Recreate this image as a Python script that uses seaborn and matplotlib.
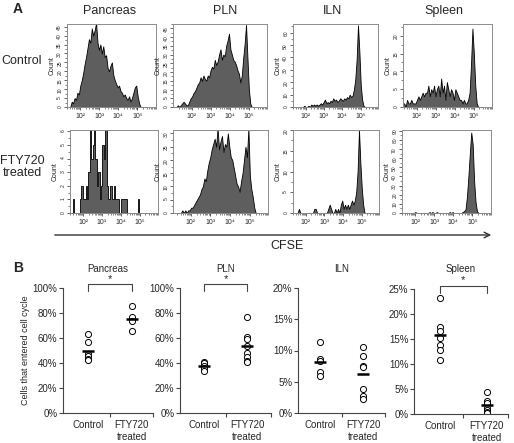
import numpy as np
import pandas as pd
import matplotlib
matplotlib.use("Agg")
import matplotlib.pyplot as plt
import seaborn as sns
from matplotlib.ticker import MultipleLocator, AutoMinorLocator, PercentFormatter

sns.set_style("ticks")
plt.rcParams["font.family"] = ["Liberation Sans", "DejaVu Sans"]

# ---- panel A: CFSE histograms, counts per bin (60 bins, log10 CFSE 1.0 to 5.5) ----
cfse_range = (1.0, 5.5)
n_bins = 60
cfse_edges = np.linspace(cfse_range[0], cfse_range[1], n_bins + 1)
cfse_centers = (cfse_edges[:-1] + cfse_edges[1:]) / 2

pancreas_ctrl_counts = [0, 0, 0, 0, 0, 0, 0, 3, 2, 5, 4, 8, 7, 12, 15, 19, 24, 28, 33, 38,
                        36, 44, 40, 43, 47, 36, 32, 35, 30, 34, 28, 29, 22, 20, 23, 25, 18, 15, 13, 11,
                        12, 9, 8, 6, 7, 5, 4, 6, 3, 5, 8, 11, 12, 6, 2, 0, 0, 0, 0, 0]
pln_ctrl_counts = [0, 0, 0, 1, 0, 1, 2, 3, 2, 1, 1, 3, 5, 6, 8, 9, 11, 13, 14, 17,
                   15, 18, 16, 15, 18, 17, 21, 23, 22, 27, 24, 26, 30, 33, 27, 30, 29, 35, 38, 42,
                   33, 30, 27, 26, 24, 21, 19, 14, 18, 28, 36, 47, 28, 10, 2, 0, 0, 0, 0, 0]
iln_ctrl_counts = [0, 0, 0, 0, 0, 0, 0, 0, 0, 0, 0, 0, 1, 0, 0, 1, 0, 2, 1, 2,
                   1, 2, 1, 2, 3, 2, 4, 6, 3, 4, 3, 5, 4, 7, 5, 6, 4, 5, 7, 6,
                   5, 7, 6, 8, 7, 10, 8, 9, 14, 22, 38, 66, 45, 18, 6, 1, 0, 0, 0, 0]
spleen_ctrl_counts = [0, 0, 0, 1, 1, 0, 2, 1, 1, 2, 1, 1, 1, 2, 3, 2, 3, 4, 3, 4,
                      4, 6, 3, 5, 4, 6, 3, 5, 6, 3, 8, 4, 6, 2, 7, 5, 3, 5, 4, 2,
                      5, 4, 3, 2, 2, 1, 2, 1, 1, 2, 4, 12, 22, 15, 6, 1, 0, 0, 0, 0]
pancreas_fty_counts = [0, 0, 0, 0, 0, 0, 1, 0, 0, 0, 0, 1, 2, 1, 1, 2, 1, 3, 7, 4,
                       5, 7, 4, 2, 3, 1, 2, 5, 4, 7, 2, 1, 2, 2, 1, 2, 1, 1, 1, 0,
                       1, 1, 1, 1, 0, 0, 0, 0, 0, 0, 0, 0, 1, 0, 0, 0, 0, 0, 0, 0]
pln_fty_counts = [0, 0, 0, 0, 0, 0, 0, 1, 0, 1, 0, 1, 1, 2, 2, 3, 4, 5, 6, 7,
                  9, 10, 13, 12, 16, 19, 21, 24, 26, 28, 25, 32, 24, 27, 29, 23, 26, 25, 30, 25,
                  21, 20, 17, 14, 11, 10, 8, 12, 15, 20, 25, 21, 32, 14, 9, 6, 2, 0, 0, 0]
iln_fty_counts = [0, 0, 0, 0, 0, 0, 0, 0, 1, 0, 0, 0, 0, 0, 0, 0, 0, 0, 0, 1,
                  1, 0, 0, 0, 0, 0, 0, 0, 0, 1, 2, 1, 0, 0, 1, 0, 1, 0, 2, 3,
                  1, 2, 1, 2, 1, 2, 3, 2, 3, 5, 10, 20, 12, 6, 2, 0, 0, 0, 0, 0]
spleen_fty_counts = [0, 0, 0, 0, 0, 0, 0, 0, 0, 0, 0, 0, 0, 1, 0, 0, 0, 0, 0, 0,
                     0, 0, 0, 1, 0, 1, 0, 0, 1, 0, 0, 0, 0, 0, 0, 0, 0, 1, 0, 1,
                     0, 0, 0, 0, 0, 0, 1, 2, 4, 18, 40, 65, 88, 75, 35, 12, 2, 0, 0, 0]

tissues = ["Pancreas", "PLN", "ILN", "Spleen"]
decade_labels = ["10\u00b2", "10\u00b3", "10\u2074", "10\u2075"]

# ---- panel B: % of cells that entered cell cycle ----
groups = ["Control", "FTY720\ntreated"]
pancreas_control = [63.5, 56.5, 47.5, 45.5, 43.5, 42.5]
pancreas_fty720 = [85.5, 77, 74, 65.5]
pln_control = [41, 40, 38, 36, 34]
pln_fty720 = [77, 61, 59, 54, 48, 45, 42, 41]
iln_control = [11.4, 8.7, 8.3, 6.6, 6.0]
iln_fty720 = [10.6, 9.2, 7.6, 7.3, 3.9, 2.8, 2.2]
spleen_control = [23.3, 17.4, 16.6, 15.2, 13.8, 12.9, 10.9]
spleen_fty720 = [4.5, 2.7, 2.3, 1.3, 0.8, 0.5, 0.3]

W, H = 514, 443
fig = plt.figure(figsize=(W / 100, H / 100), dpi=100)


def px_axes(left, top, right, bottom):
    return fig.add_axes([left / W, 1 - bottom / H, (right - left) / W, (bottom - top) / H])


# histogram layout: counts, (left, top, right, bottom), xlim, ymax, ystep, element
hist_layout = [
    (pancreas_ctrl_counts, (66.7, 24, 155.7, 107), (1.53, 5.42), 46.5, 5, "poly"),
    (pln_ctrl_counts, (173.3, 24, 266.7, 107), (1.02, 5.23), 47.5, 5, "poly"),
    (iln_ctrl_counts, (292.7, 24, 378, 107), (1.45, 5.28), 67, 10, "poly"),
    (spleen_ctrl_counts, (403.3, 24, 491.7, 107), (1.29, 5.48), 23.3, 5, "poly"),
    (pancreas_fty_counts, (70, 130, 157.7, 213), (1.48, 5.39), 6.1, 1, "step"),
    (pln_fty_counts, (173.3, 130, 268.3, 213), (1.10, 5.37), 31.3, 5, "poly"),
    (iln_fty_counts, (292.7, 130, 379.3, 213), (1.41, 5.27), 20, 5, "poly"),
    (spleen_fty_counts, (401.7, 130, 490.7, 213), (1.31, 5.41), 90.8, 10, "poly"),
]

minor_decades = [np.log10(k) + n for n in range(1, 6) for k in range(2, 10)]

for counts, box, xlim, ymax, ystep, element in hist_layout:
    ax = px_axes(*box)
    hist_df = pd.DataFrame({"cfse": cfse_centers, "n": counts})
    sns.histplot(data=hist_df, x="cfse", weights="n", bins=n_bins, binrange=cfse_range,
                 element=element, fill=True, color="#5e5e5e", edgecolor="black",
                 linewidth=0.6, alpha=1, ax=ax)
    ax.set_xlim(*xlim)
    ax.set_ylim(0, ymax)
    ax.set_xticks([2, 3, 4, 5], decade_labels)
    ax.set_xticks(minor_decades, minor=True)
    ax.yaxis.set_major_locator(MultipleLocator(ystep))
    ax.yaxis.set_minor_locator(AutoMinorLocator(2))
    ax.tick_params(axis="x", which="major", length=2.2, width=0.5, labelsize=5, pad=2)
    ax.tick_params(axis="x", which="minor", length=1.3, width=0.4)
    ax.tick_params(axis="y", which="major", length=2.2, width=0.5, labelsize=3.6,
                   labelrotation=90, pad=1)
    ax.tick_params(axis="y", which="minor", length=1.3, width=0.4)
    for sp in ax.spines.values():
        sp.set_color("#8c8c8c")
        sp.set_linewidth(0.7)
    ax.set_xlabel("")
    ax.set_ylabel("Count", fontsize=5, labelpad=1.5)

# overlay for labels and the CFSE arrow, in pixel coordinates
ov = fig.add_axes([0, 0, 1, 1], zorder=-1)
ov.set_xlim(0, W)
ov.set_ylim(H, 0)
ov.axis("off")

ov.text(18, 9, "A", fontsize=10, fontweight="bold", ha="center", va="center")
ov.text(18, 268, "B", fontsize=10, fontweight="bold", ha="center", va="center")
for name, xc in zip(tissues, [110, 225, 333, 444]):
    ov.text(xc, 11, name, fontsize=9, ha="center", va="center")
ov.text(22, 61, "Control", fontsize=9, ha="center", va="center")
ov.text(22, 167, "FTY720\ntreated", fontsize=9, ha="center", va="center", linespacing=1.1)
ov.annotate("", xy=(494, 235), xytext=(52, 235),
            arrowprops=dict(arrowstyle="->", color="#333333", lw=1, mutation_scale=10))
ov.text(287, 246, "CFSE", fontsize=9, ha="center", va="center")

# ---- panel B scatter plots ----
# layout: (left, top, right, bottom), xlim, ymax, ystep, bracket (y, drop, star y)
scatter_layout = [
    ("Pancreas", pancreas_control, pancreas_fty720, (63, 288, 153, 413), (-0.57, 1.48), 100, 20,
     (103, 97.6, 107.5)),
    ("PLN", pln_control, pln_fty720, (180, 288, 271, 413), (-0.56, 1.56), 100, 20,
     (103, 97.6, 107.5)),
    ("ILN", iln_control, iln_fty720, (298, 288, 385, 413), (-0.51, 1.51), 20, 5, None),
    ("Spleen", spleen_control, spleen_fty720, (414, 289, 508, 414), (-0.55, 1.45), 25, 5,
     (25.6, 24.3, 26.8)),
]

for name, ctrl, fty, box, xlim, ymax, ystep, bracket in scatter_layout:
    ax = px_axes(*box)
    df = pd.DataFrame({"group": [groups[0]] * len(ctrl) + [groups[1]] * len(fty),
                       "value": ctrl + fty})
    sns.stripplot(data=df, x="group", y="value", order=groups, jitter=False,
                  color="white", edgecolor="black", linewidth=0.7, size=4.4,
                  zorder=2, ax=ax)
    for i, vals in enumerate([ctrl, fty]):
        ax.hlines(np.mean(vals), i - 0.13, i + 0.13, color="black", lw=1.8, zorder=3)
    ax.set_xlim(*xlim)
    ax.set_ylim(0, ymax)
    ax.yaxis.set_major_locator(MultipleLocator(ystep))
    ax.yaxis.set_major_formatter(PercentFormatter(decimals=0))
    ax.set_xticks([0.5, xlim[1]], minor=True)
    ax.tick_params(axis="x", which="major", length=0, labelsize=7, pad=5)
    ax.tick_params(axis="x", which="minor", length=3, width=0.8, color="#444444")
    ax.tick_params(axis="y", length=3, width=0.8, color="#444444", labelsize=7, pad=1)
    sns.despine(ax=ax)
    for side in ["left", "bottom"]:
        ax.spines[side].set_color("#444444")
        ax.spines[side].set_linewidth(0.8)
    ax.set_xlabel("")
    ax.set_ylabel("")
    if bracket is not None:
        yb, yd, ys = bracket
        ax.plot([0, 0, 1, 1], [yd, yb, yb, yd], color="#444444", lw=0.8, clip_on=False)
        ax.text(0.5, ys, "*", fontsize=8, ha="center", va="center")
    left, top, right, bottom = box
    ov.text((left + right) / 2, 269, name, fontsize=7, ha="center", va="center")
    if name == "Pancreas":
        ax.set_ylabel("Cells that entered cell cycle", fontsize=6.5, labelpad=2)

fig.savefig("out.png", dpi=100)
